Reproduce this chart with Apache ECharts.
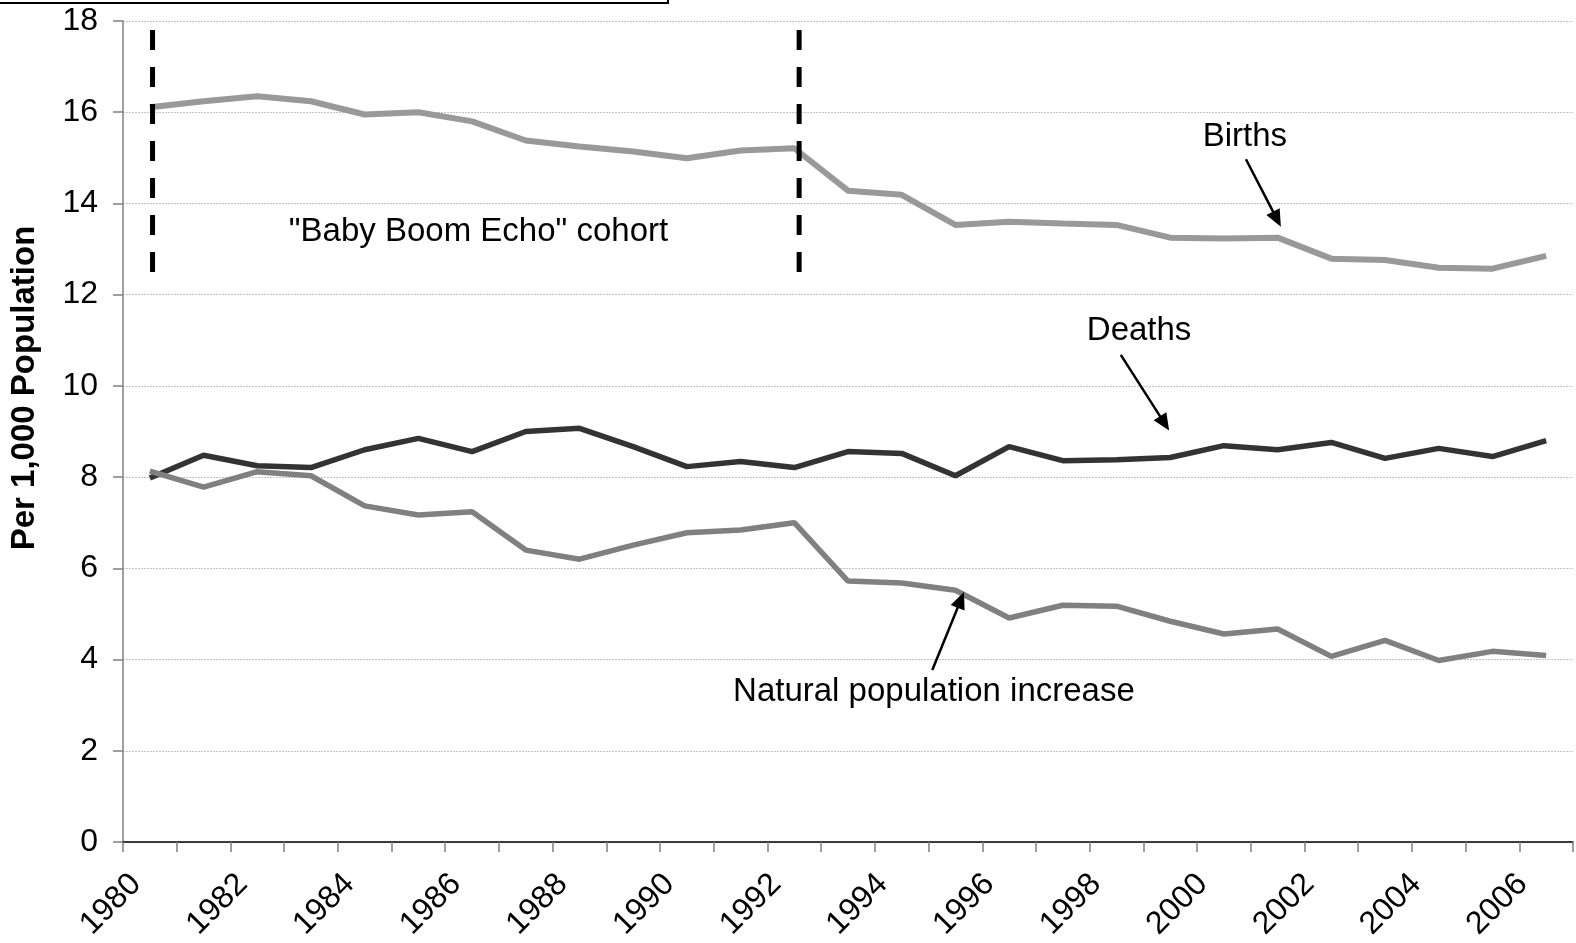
<!DOCTYPE html>
<html><head><meta charset="utf-8">
<script src="https://cdn.jsdelivr.net/npm/echarts@6/dist/echarts.min.js"></script>
<style>html,body{margin:0;padding:0;background:#fff}#c{width:1576px;height:943px}</style>
</head><body><div id="c"></div>
<script>
// ---- data ----
const years = ['1980','1981','1982','1983','1984','1985','1986','1987','1988','1989','1990','1991','1992','1993','1994','1995','1996','1997','1998','1999','2000','2001','2002','2003','2004','2005','2006'];
const tickLabels = ['1980','1981','1982','1983','1984','1985','1986','1987','1988','1989','1990','1991','1992','1993','1994','1995','1996','1997','1998','1999','2000','2001','2002','2003','2004','2005','2006','2007'];
const births = [16.11,16.24,16.35,16.24,15.95,16.00,15.80,15.38,15.25,15.14,14.99,15.16,15.21,14.28,14.19,13.53,13.60,13.56,13.53,13.25,13.23,13.25,12.79,12.76,12.59,12.57,12.85];
const deaths = [7.98,8.48,8.25,8.21,8.60,8.85,8.56,9.00,9.07,8.67,8.23,8.34,8.21,8.56,8.52,8.03,8.67,8.36,8.38,8.43,8.69,8.60,8.76,8.41,8.63,8.45,8.80];
const naturalIncrease = [8.13,7.78,8.12,8.03,7.37,7.17,7.24,6.40,6.20,6.51,6.78,6.84,7.00,5.72,5.68,5.52,4.91,5.19,5.17,4.84,4.56,4.67,4.07,4.42,3.98,4.18,4.09];
const yMin = 0, yMax = 18, yInterval = 2;
const yTitle = 'Per 1,000 Population';

// annotation texts and anchor points (category index, value)
const annotTexts = [
  {text: '"Baby Boom Echo" cohort', at: [6.12, 13.37]},
  {text: 'Births', at: [20.39, 15.46]},
  {text: 'Deaths', at: [18.42, 11.2]},
  {text: 'Natural population increase', at: [14.6, 3.28]}
];
const annotArrows = [
  {from: [20.41, 14.97], to: [21.06, 13.49]},
  {from: [18.08, 10.68], to: [18.98, 9.02]},
  {from: [14.57, 3.77], to: [15.16, 5.48]}
];
const cohortLines = [
  {x: 0.05, y1: 17.8, y2: 12.4},
  {x: 12.09, y1: 17.8, y2: 12.4}
];

const FONT = 'Liberation Sans, Arial, sans-serif';
const chart = echarts.init(document.getElementById('c'), null, {renderer: 'canvas'});

const option = {
  animation: false,
  backgroundColor: '#fff',
  grid: [
    {left: 123, top: 21, width: 1450, height: 821, containLabel: false},
    {left: 136, top: 21, width: 1450, height: 821, containLabel: false}
  ],
  xAxis: [
    {
      type: 'category', gridIndex: 0, data: years, boundaryGap: true,
      axisLine: {onZero: false, lineStyle: {color: '#000', width: 1.5}},
      axisTick: {show: true, interval: 0, length: 10, lineStyle: {color: '#808080', width: 1.5}},
      axisLabel: {show: false},
      splitLine: {show: false}
    },
    {type: 'value', gridIndex: 0, min: -0.5, max: 26.5, show: false, axisLine: {onZero: false}},
    {
      type: 'category', gridIndex: 1, data: tickLabels, boundaryGap: false,
      axisLine: {show: false, onZero: false}, axisTick: {show: false}, splitLine: {show: false},
      axisLabel: {interval: 1, rotate: 45, margin: 44, fontSize: 32, fontFamily: FONT, color: '#000'}
    }
  ],
  yAxis: [
    {
      type: 'value', gridIndex: 0, min: yMin, max: yMax, interval: yInterval,
      axisLine: {show: true, onZero: false, lineStyle: {color: '#808080', width: 1.5}},
      axisTick: {show: true, inside: false, length: 10, lineStyle: {color: '#808080', width: 1.5}},
      axisLabel: {margin: 25, fontSize: 32, fontFamily: FONT, color: '#000'},
      splitLine: {show: true, lineStyle: {color: '#c4c4c4', width: 1, type: [2, 1]}}
    },
    {type: 'value', gridIndex: 1, min: 0, max: 1, show: false, axisLine: {onZero: false}}
  ],
  series: [
    {name: 'Births', type: 'line', xAxisIndex: 0, yAxisIndex: 0, data: births, symbol: 'none',
     lineStyle: {color: '#999999', width: 6}, z: 3},
    {name: 'Deaths', type: 'line', xAxisIndex: 0, yAxisIndex: 0, data: deaths, symbol: 'none',
     lineStyle: {color: '#333333', width: 5.5}, z: 3},
    {name: 'Natural population increase', type: 'line', xAxisIndex: 0, yAxisIndex: 0, data: naturalIncrease, symbol: 'none',
     lineStyle: {color: '#808080', width: 5.5}, z: 4}
  ]
};
chart.setOption(option);

function px(p) { return chart.convertToPixel({xAxisIndex: 1, yAxisIndex: 0}, p); }

const g = [];
// cut-off box at top left
g.push({type: 'rect', shape: {x: -3, y: -20, width: 671, height: 23}, style: {fill: 'none', stroke: '#000', lineWidth: 2}, z: 10});
// y-axis title
g.push({type: 'text', x: 25, y: 388, rotation: Math.PI / 2,
  style: {text: yTitle, font: 'bold 33px ' + FONT, fill: '#000', align: 'center', verticalAlign: 'middle'}, z: 10});
// dashed cohort lines
cohortLines.forEach(function (c) {
  const a = px([c.x, c.y1]), b = px([c.x, c.y2]);
  g.push({type: 'line', shape: {x1: a[0], y1: a[1], x2: b[0], y2: b[1]},
    style: {stroke: '#000', lineWidth: 5, lineDash: [20, 17]}, z: 10});
});
// annotation texts
annotTexts.forEach(function (t) {
  const p = px(t.at);
  g.push({type: 'text', x: p[0], y: p[1],
    style: {text: t.text, font: '33px ' + FONT, fill: '#000', align: 'center', verticalAlign: 'middle'}, z: 10});
});
// arrows
annotArrows.forEach(function (ar) {
  const a = px(ar.from), b = px(ar.to);
  const dx = b[0] - a[0], dy = b[1] - a[1], len = Math.sqrt(dx * dx + dy * dy);
  const ux = dx / len, uy = dy / len, hl = 17, hw = 7.5;
  const bx = b[0] - ux * hl, by = b[1] - uy * hl;
  g.push({type: 'line', shape: {x1: a[0], y1: a[1], x2: bx + ux * 2, y2: by + uy * 2},
    style: {stroke: '#000', lineWidth: 2.5}, z: 10});
  g.push({type: 'polygon', shape: {points: [[b[0], b[1]], [bx - uy * hw, by + ux * hw], [bx + uy * hw, by - ux * hw]]},
    style: {fill: '#000'}, z: 10});
});
chart.setOption({graphic: g});
</script>
</body></html>
